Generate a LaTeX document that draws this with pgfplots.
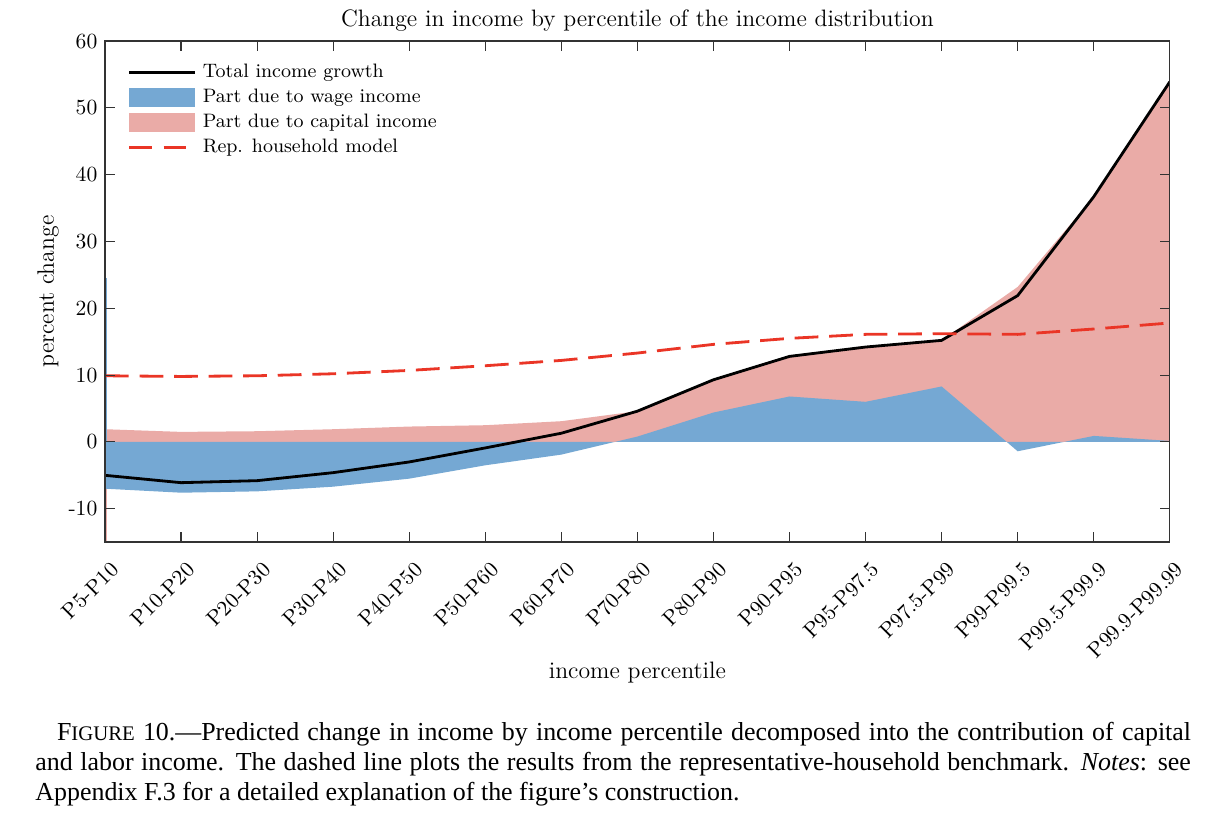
\documentclass[border=0pt]{standalone}
\usepackage{pgfplots}
\pgfplotsset{compat=1.18}
\usepackage{pgfplotstable}
\usepackage{fontspec}
\newfontfamily\capfont{Liberation Serif}

\definecolor{wagec}{RGB}{117,168,211}
\definecolor{capc}{RGB}{234,171,167}
\definecolor{repc}{RGB}{234,53,38}

% i: category index, total: total growth, wage: wage part,
% captop: upper edge of the capital part, rep: rep. household model
\pgfplotstableread{
i total wage captop rep
0  -5.0 -7.0  1.9  9.9
1  -6.1 -7.6  1.5  9.8
2  -5.8 -7.4  1.6  9.9
3  -4.6 -6.7  1.9 10.2
4  -3.0 -5.5  2.3 10.7
5  -0.9 -3.5  2.5 11.4
6   1.3 -1.9  3.1 12.2
7   4.6  0.8  4.6 13.3
8   9.3  4.4  9.3 14.6
9  12.8  6.8 12.8 15.5
10 14.2  6.0 14.2 16.1
11 15.2  8.3 15.2 16.2
12 21.9 -1.4 23.2 16.1
13 36.7  0.9 36.7 16.9
14 53.9  0.15 53.9 17.8
}\datatable

\begin{document}
\begin{tikzpicture}
\path[use as bounding box] (-48.6pt,-126.8pt) rectangle (518.1pt,251pt);
\begin{axis}[
  scale only axis,
  width=493pt, height=232pt,
  xmin=0, xmax=14, ymin=-15, ymax=60,
  axis on top,
  xtick={0,...,14},
  xticklabels={P5-P10,P10-P20,P20-P30,P30-P40,P40-P50,P50-P60,P60-P70,P70-P80,P80-P90,P90-P95,P95-P97.5,P97.5-P99,P99-P99.5,P99.5-P99.9,P99.9-P99.99},
  ytick={-10,0,10,20,30,40,50,60},
  yticklabels={-10,0,10,20,30,40,50,60},
  tick align=inside,
  major tick length=4.6pt,
  tick label style={font=\fontsize{10}{12}\selectfont},
  x tick label style={xshift=2pt, yshift=-7pt, rotate=45, anchor=north east, inner sep=1pt},
  axis line style={black!80, line width=0.6pt},
  every tick/.style={black!80, line width=0.5pt},
  title={Change in income by percentile of the income distribution},
  title style={font=\fontsize{11}{13}\selectfont, at={(0.5,1)}, anchor=base, yshift=0.9pt},
  xlabel={income percentile},
  ylabel={percent change},
  label style={font=\fontsize{11}{13}\selectfont},
  xlabel style={at={(axis description cs:0.5,0)}, anchor=center, yshift=-60.6pt},
  ylabel style={at={(axis description cs:0,0.5)}, anchor=center, yshift=26.4pt},
  legend style={at={(0,1)}, anchor=north west, xshift=10.3pt, yshift=-10.1pt,
    draw=none, fill=none, inner sep=0pt, row sep=2.9pt, column sep=3pt,
    font=\fontsize{9}{11}\selectfont,
    nodes={text height=6.5pt, text depth=2pt, inner sep=0pt},
    cells={anchor=west}},
  legend image code/.code={\draw[#1] (0pt,0pt) -- (30.5pt,0pt);},
]
\addlegendimage{black, line width=1.3pt}
\addlegendentry{Total income growth}
\addlegendimage{legend image code/.code={\fill[wagec] (0pt,-4.2pt) rectangle (30.5pt,4.2pt);}}
\addlegendentry{Part due to wage income}
\addlegendimage{legend image code/.code={\fill[capc] (0pt,-4.2pt) rectangle (30.5pt,4.2pt);}}
\addlegendentry{Part due to capital income}
\addlegendimage{repc, line width=1.3pt, dash pattern=on 10.5pt off 5.5pt}
\addlegendentry{Rep. household model}

\addplot[fill=capc, draw=none, forget plot] table[x=i, y=captop] {\datatable} \closedcycle;
\addplot[fill=wagec, draw=none, forget plot] table[x=i, y=wage] {\datatable} \closedcycle;
% edge artefacts at the left border
\addplot[wagec, line width=0.8pt, forget plot] coordinates {(0.015,0) (0.015,24.6)};
\addplot[capc, line width=0.8pt, forget plot] coordinates {(0.015,-15) (0.015,-7)};
\addplot[black, line width=1.3pt, forget plot] table[x=i, y=total] {\datatable};
\addplot[repc, line width=1.3pt, dash pattern=on 11pt off 5pt, forget plot] table[x=i, y=rep] {\datatable};
\end{axis}
\node[anchor=base west, inner sep=0pt] at (-32.4pt,-92pt) {\parbox[t]{535pt}{\capfont\fontsize{12}{13.7}\selectfont
\hspace*{10pt}F{\fontsize{9.6}{10}\selectfont IGURE} 10.—Predicted change in income by income percentile decomposed into the contribution of capital\linebreak
and labor income. The dashed line plots the results from the representative-household benchmark. \textit{Notes}: see\linebreak
Appendix F.3 for a detailed explanation of the figure’s construction.}};
\end{tikzpicture}
\end{document}
